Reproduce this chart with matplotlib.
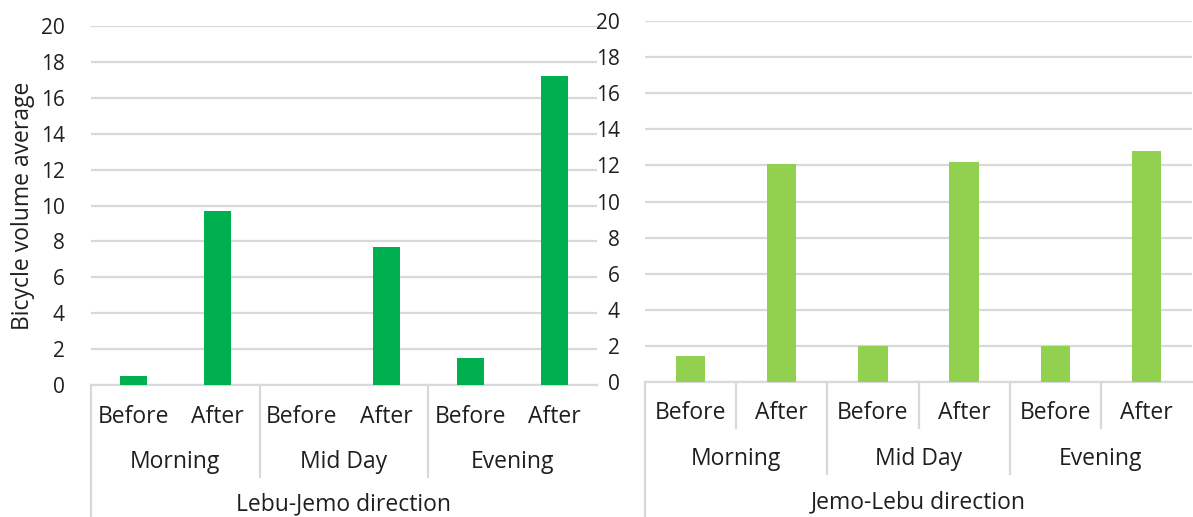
import matplotlib
matplotlib.use("Agg")
import matplotlib.pyplot as plt
from matplotlib.transforms import blended_transform_factory
from matplotlib.lines import Line2D

plt.rcParams['font.family'] = ['Open Sans', 'DejaVu Sans']

# Data
periods = ["Morning", "Mid Day", "Evening"]
phases = ["Before", "After"]
lebu_jemo = [0.5, 9.7, 0.0, 7.7, 1.5, 17.2]
jemo_lebu = [1.45, 12.05, 2.0, 12.2, 2.0, 12.8]
directions = ["Lebu-Jemo direction", "Jemo-Lebu direction"]
y_ticks = [0, 2, 4, 6, 8, 10, 12, 14, 16, 18, 20]

W, H = 1193, 517
fig = plt.figure(figsize=(W / 100, H / 100), dpi=100)

TEXT = "#1f1f1f"
GRID = "#d9d9d9"
FS_TICK = 15
FS_CAT = 16.5


def fy(py):
    return 1 - py / H


def panel(rect_px, values, color, direction, label_rows, sep_rows, inner_sep, ylabel=None, pad=16):
    x0, x1, ytop, ybot = rect_px
    ax = fig.add_axes([x0 / W, fy(ybot), (x1 - x0) / W, (ybot - ytop) / H])
    n = len(values)
    xs = list(range(n))
    ax.bar(xs, values, width=0.32, color=color, zorder=3)
    ax.set_xlim(-0.5, n - 0.5)
    ax.set_ylim(0, 20)
    ax.set_yticks(y_ticks)
    ax.tick_params(axis='y', length=0, pad=pad, labelsize=FS_TICK, labelcolor=TEXT)
    ax.set_xticks([])
    ax.grid(axis='y', color=GRID, linewidth=1.6, zorder=0)
    for s in ['top', 'right', 'left']:
        ax.spines[s].set_visible(False)
    ax.spines['bottom'].set_color(GRID)
    ax.spines['bottom'].set_linewidth(1.6)
    if ylabel:
        ax.set_ylabel(ylabel, fontsize=FS_CAT, color=TEXT, labelpad=4)

    tr = blended_transform_factory(ax.transData, fig.transFigure)
    y_l1, y_l2, y_l3 = label_rows
    # level 1: phase labels
    for i in range(n):
        ax.text(i, fy(y_l1), phases[i % 2], transform=tr, ha='center', va='center',
                fontsize=FS_CAT, color=TEXT, clip_on=False)
    # level 2: period labels
    for g, p in enumerate(periods):
        ax.text(2 * g + 0.5, fy(y_l2), p, transform=tr, ha='center', va='center',
                fontsize=FS_CAT, color=TEXT, clip_on=False)
    # level 3: direction label
    ax.text((n - 1) / 2, fy(y_l3), direction, transform=tr, ha='center', va='center',
            fontsize=FS_CAT, color=TEXT, clip_on=False)

    # separator lines of the multi-level category axis
    s_inner, s_group, s_outer = sep_rows
    def vline(x, ystart, yend):
        ax.add_line(Line2D([x, x], [fy(ystart), fy(yend)], transform=tr, color=GRID,
                           linewidth=1.6, clip_on=False))
    vline(-0.5, ybot, s_outer)
    for g in range(1, 3):
        vline(2 * g - 0.5, ybot, s_group)
    if inner_sep:
        for g in range(3):
            vline(2 * g + 0.5, ybot, s_inner)
    return ax


panel((91, 597, 26, 385), lebu_jemo, "#00b050", directions[0],
      (417, 462, 504), (430, 477, 517), False, ylabel="Bicycle volume average", pad=19)
panel((645, 1192, 21, 382), jemo_lebu, "#92d050", directions[1],
      (413, 459, 502), (428, 474, 517), True, pad=18)

fig.savefig("out.png", dpi=100)
